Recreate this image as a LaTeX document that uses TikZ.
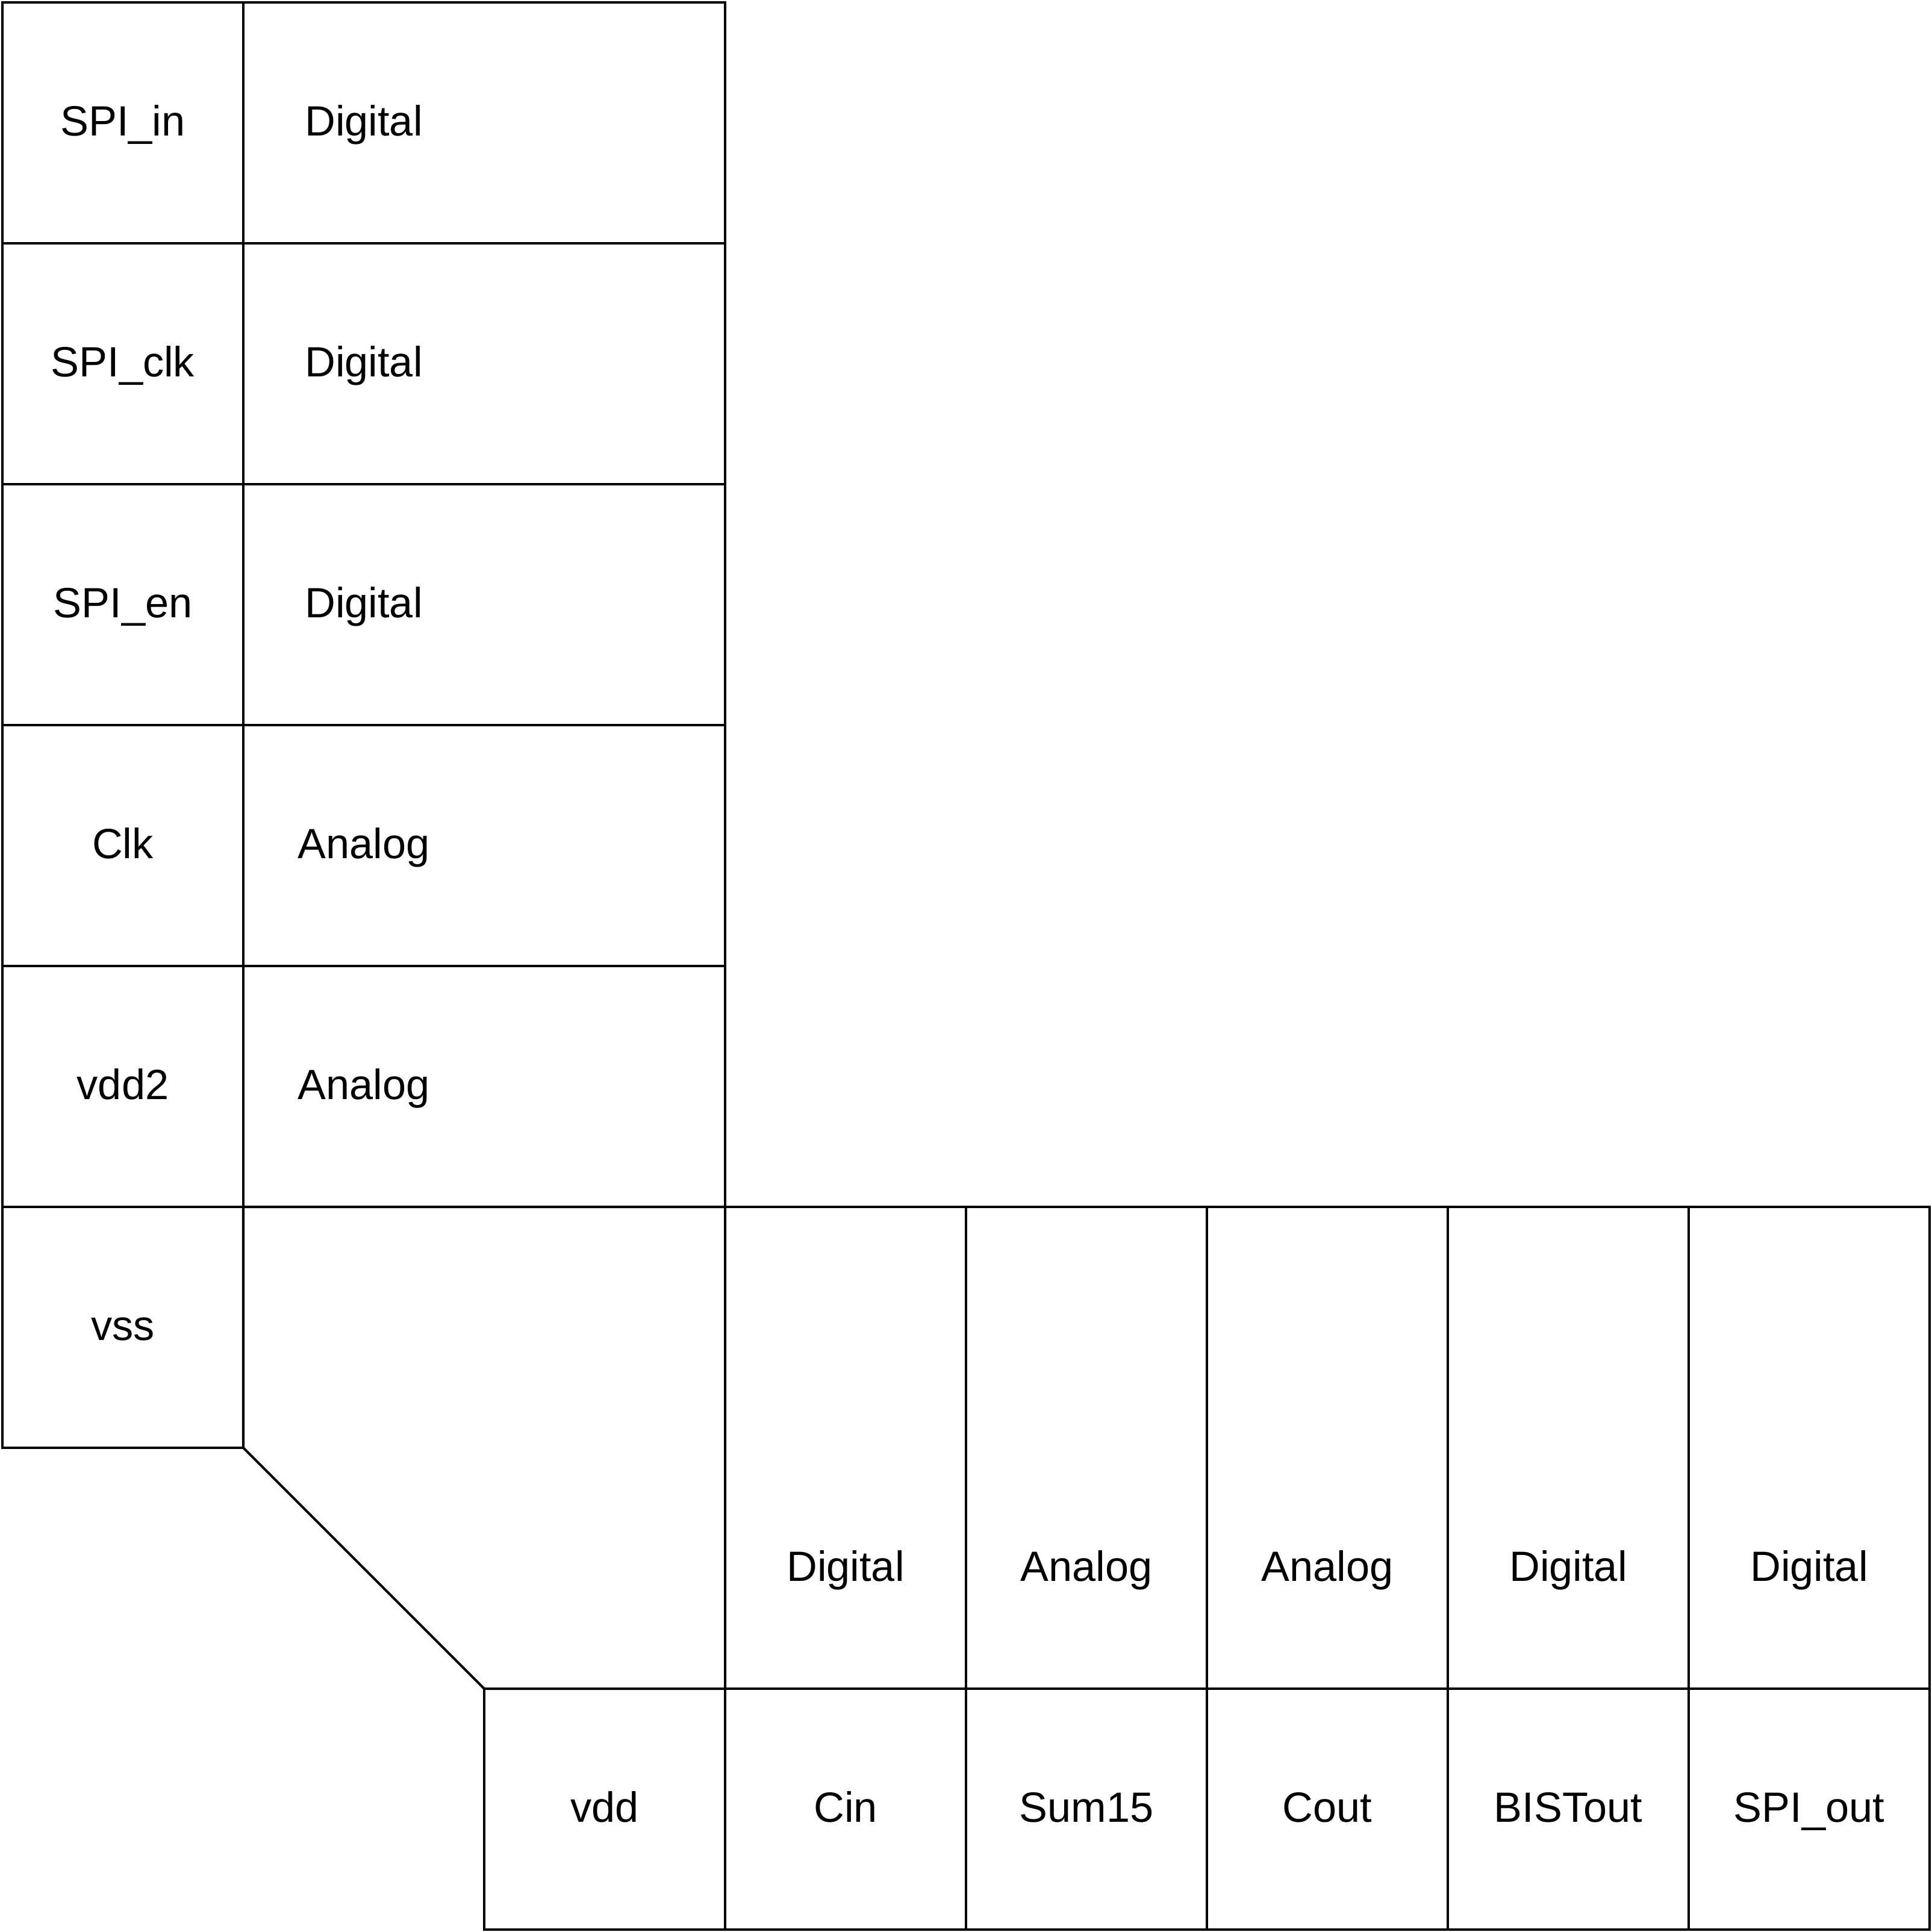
\documentclass[tikz,border=0pt]{standalone}
\usepackage{fontspec}
\setmainfont{Liberation Sans}
\begin{document}
\begin{tikzpicture}[x=2cm, y=2cm, line width=0.57pt,
    pin/.style={draw, minimum width=2cm, minimum height=2cm, inner sep=0pt},
    padtext/.style={anchor=base, yshift=-3.1pt, inner sep=0pt, font=\fontsize{10}{12}\selectfont}]
    \useasboundingbox (-0.01,-0.01) rectangle (8.01,8.01);

    % left column: pin names
    \node[pin] (spiin) at (0.5,7.5) {};
    \node[pin] (spiclk) at (0.5,6.5) {};
    \node[pin] (spien) at (0.5,5.5) {};
    \node[pin] (clk) at (0.5,4.5) {};
    \node[pin] (vddtwo) at (0.5,3.5) {};
    \node[pin] (vss) at (0.5,2.5) {};
    \node[padtext] (spiinname) at (spiin) {SPI\_in};
    \node[padtext] (spiclkname) at (spiclk) {SPI\_clk};
    \node[padtext] (spienname) at (spien) {SPI\_en};
    \node[padtext] (clkname) at (clk) {Clk};
    \node[padtext] (vddtwoname) at (vddtwo) {vdd2};
    \node[padtext] (vssname) at (vss) {vss};

    % left column: pad types
    \draw (1,7) rectangle (3,8);
    \draw (1,6) rectangle (3,7);
    \draw (1,5) rectangle (3,6);
    \draw (1,4) rectangle (3,5);
    \draw (1,3) rectangle (3,4);
    \node[padtext] (spiintype) at (1.5,7.5) {Digital};
    \node[padtext] (spiclktype) at (1.5,6.5) {Digital};
    \node[padtext] (spientype) at (1.5,5.5) {Digital};
    \node[padtext] (clktype) at (1.5,4.5) {Analog};
    \node[padtext] (vddtwotype) at (1.5,3.5) {Analog};

    % corner cell
    \draw (1,2) -- (1,3) -- (3,3) -- (3,1) -- (2,1) -- cycle;

    % bottom row: pad types
    \draw (3,1) rectangle (4,3);
    \draw (4,1) rectangle (5,3);
    \draw (5,1) rectangle (6,3);
    \draw (6,1) rectangle (7,3);
    \draw (7,1) rectangle (8,3);
    \node[padtext] (cintype) at (3.5,1.5) {Digital};
    \node[padtext] (sumtype) at (4.5,1.5) {Analog};
    \node[padtext] (couttype) at (5.5,1.5) {Analog};
    \node[padtext] (bisttype) at (6.5,1.5) {Digital};
    \node[padtext] (spiouttype) at (7.5,1.5) {Digital};

    % bottom row: pin names
    \node[pin] (vdd) at (2.5,0.5) {};
    \node[pin] (cin) at (3.5,0.5) {};
    \node[pin] (sum) at (4.5,0.5) {};
    \node[pin] (cout) at (5.5,0.5) {};
    \node[pin] (bist) at (6.5,0.5) {};
    \node[pin] (spiout) at (7.5,0.5) {};
    \node[padtext] (vddname) at (vdd) {vdd};
    \node[padtext] (cinname) at (cin) {Cin};
    \node[padtext] (sumname) at (sum) {Sum15};
    \node[padtext] (coutname) at (cout) {Cout};
    \node[padtext] (bistname) at (bist) {BISTout};
    \node[padtext] (spioutname) at (spiout) {SPI\_out};
\end{tikzpicture}
\end{document}
